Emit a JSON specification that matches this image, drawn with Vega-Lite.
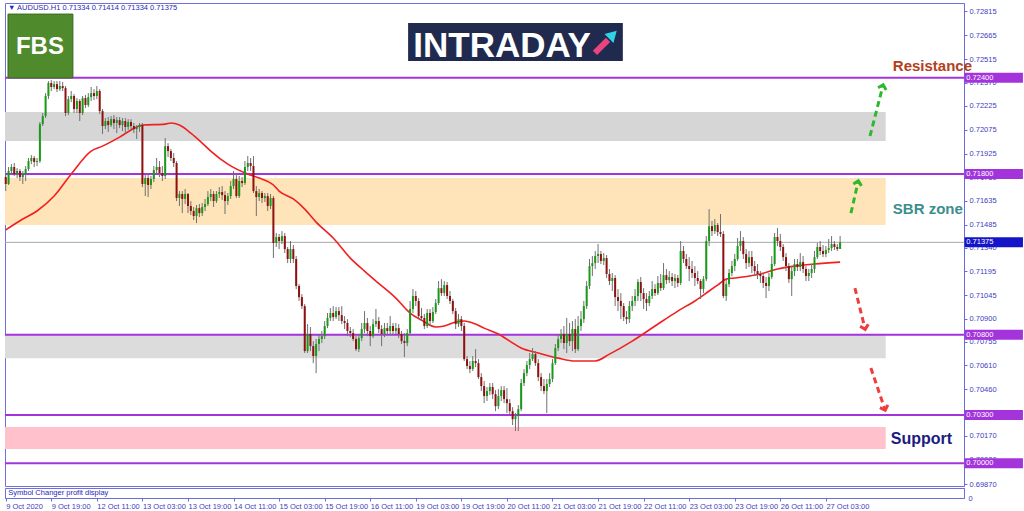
{
  "$schema": "https://vega.github.io/schema/vega-lite/v6.json",
  "padding": {"left": 2, "top": 2, "right": 0, "bottom": 0},
  "background": "white",
  "spacing": 2,
  "bounds": "flush",
  "config": {"view": {"stroke": "#7070dc", "strokeWidth": 1}, "font": "Liberation Sans", "axis": {"labelOverlap": false}},
  "datasets": {
    "candles": [
{"i":0,"o":0.71781,"h":0.71806,"l":0.71694,"c":0.71738},
{"i":1,"o":0.71738,"h":0.71844,"l":0.71732,"c":0.71819},
{"i":2,"o":0.71819,"h":0.71862,"l":0.71806,"c":0.71844},
{"i":3,"o":0.71844,"h":0.71869,"l":0.71788,"c":0.71800},
{"i":4,"o":0.71800,"h":0.71837,"l":0.71775,"c":0.71819},
{"i":5,"o":0.71819,"h":0.71831,"l":0.71757,"c":0.71781},
{"i":6,"o":0.71781,"h":0.71819,"l":0.71738,"c":0.71800},
{"i":7,"o":0.71800,"h":0.71850,"l":0.71757,"c":0.71831},
{"i":8,"o":0.71831,"h":0.71900,"l":0.71819,"c":0.71881},
{"i":9,"o":0.71881,"h":0.71918,"l":0.71862,"c":0.71900},
{"i":10,"o":0.71900,"h":0.71912,"l":0.71844,"c":0.71875},
{"i":11,"o":0.71875,"h":0.71900,"l":0.71850,"c":0.71881},
{"i":12,"o":0.71881,"h":0.72124,"l":0.71869,"c":0.72111},
{"i":13,"o":0.72111,"h":0.72180,"l":0.72099,"c":0.72161},
{"i":14,"o":0.72161,"h":0.72304,"l":0.72149,"c":0.72286},
{"i":15,"o":0.72286,"h":0.72379,"l":0.72267,"c":0.72367},
{"i":16,"o":0.72367,"h":0.72385,"l":0.72317,"c":0.72342},
{"i":17,"o":0.72342,"h":0.72379,"l":0.72329,"c":0.72360},
{"i":18,"o":0.72360,"h":0.72379,"l":0.72311,"c":0.72329},
{"i":19,"o":0.72329,"h":0.72379,"l":0.72317,"c":0.72348},
{"i":20,"o":0.72348,"h":0.72373,"l":0.72317,"c":0.72335},
{"i":21,"o":0.72335,"h":0.72348,"l":0.72161,"c":0.72180},
{"i":22,"o":0.72180,"h":0.72286,"l":0.72167,"c":0.72267},
{"i":23,"o":0.72267,"h":0.72317,"l":0.72248,"c":0.72286},
{"i":24,"o":0.72286,"h":0.72298,"l":0.72180,"c":0.72205},
{"i":25,"o":0.72205,"h":0.72273,"l":0.72180,"c":0.72255},
{"i":26,"o":0.72255,"h":0.72267,"l":0.72130,"c":0.72180},
{"i":27,"o":0.72180,"h":0.72286,"l":0.72167,"c":0.72273},
{"i":28,"o":0.72273,"h":0.72292,"l":0.72211,"c":0.72230},
{"i":29,"o":0.72230,"h":0.72304,"l":0.72217,"c":0.72279},
{"i":30,"o":0.72279,"h":0.72342,"l":0.72255,"c":0.72304},
{"i":31,"o":0.72304,"h":0.72329,"l":0.72261,"c":0.72286},
{"i":32,"o":0.72286,"h":0.72348,"l":0.72267,"c":0.72317},
{"i":33,"o":0.72317,"h":0.72329,"l":0.72174,"c":0.72192},
{"i":34,"o":0.72192,"h":0.72205,"l":0.72049,"c":0.72099},
{"i":35,"o":0.72099,"h":0.72149,"l":0.72080,"c":0.72130},
{"i":36,"o":0.72130,"h":0.72155,"l":0.72062,"c":0.72105},
{"i":37,"o":0.72105,"h":0.72161,"l":0.72093,"c":0.72142},
{"i":38,"o":0.72142,"h":0.72167,"l":0.72080,"c":0.72118},
{"i":39,"o":0.72118,"h":0.72155,"l":0.72055,"c":0.72136},
{"i":40,"o":0.72136,"h":0.72155,"l":0.72086,"c":0.72105},
{"i":41,"o":0.72105,"h":0.72149,"l":0.72068,"c":0.72130},
{"i":42,"o":0.72130,"h":0.72149,"l":0.72049,"c":0.72093},
{"i":43,"o":0.72093,"h":0.72142,"l":0.72074,"c":0.72124},
{"i":44,"o":0.72124,"h":0.72142,"l":0.72080,"c":0.72099},
{"i":45,"o":0.72099,"h":0.72118,"l":0.72055,"c":0.72080},
{"i":46,"o":0.72080,"h":0.72105,"l":0.72018,"c":0.72093},
{"i":47,"o":0.72093,"h":0.72118,"l":0.72062,"c":0.72105},
{"i":48,"o":0.72105,"h":0.72118,"l":0.71719,"c":0.71738},
{"i":49,"o":0.71738,"h":0.71794,"l":0.71663,"c":0.71775},
{"i":50,"o":0.71775,"h":0.71806,"l":0.71657,"c":0.71732},
{"i":51,"o":0.71732,"h":0.71788,"l":0.71707,"c":0.71769},
{"i":52,"o":0.71769,"h":0.71850,"l":0.71750,"c":0.71825},
{"i":53,"o":0.71825,"h":0.71900,"l":0.71800,"c":0.71844},
{"i":54,"o":0.71844,"h":0.71881,"l":0.71781,"c":0.71806},
{"i":55,"o":0.71806,"h":0.71850,"l":0.71757,"c":0.71788},
{"i":56,"o":0.71788,"h":0.72024,"l":0.71769,"c":0.71974},
{"i":57,"o":0.71974,"h":0.71993,"l":0.71906,"c":0.71943},
{"i":58,"o":0.71943,"h":0.71956,"l":0.71881,"c":0.71900},
{"i":59,"o":0.71900,"h":0.71931,"l":0.71844,"c":0.71869},
{"i":60,"o":0.71869,"h":0.71881,"l":0.71632,"c":0.71651},
{"i":61,"o":0.71651,"h":0.71694,"l":0.71601,"c":0.71676},
{"i":62,"o":0.71676,"h":0.71694,"l":0.71557,"c":0.71645},
{"i":63,"o":0.71645,"h":0.71707,"l":0.71613,"c":0.71676},
{"i":64,"o":0.71676,"h":0.71682,"l":0.71557,"c":0.71601},
{"i":65,"o":0.71601,"h":0.71632,"l":0.71545,"c":0.71570},
{"i":66,"o":0.71570,"h":0.71595,"l":0.71514,"c":0.71539},
{"i":67,"o":0.71539,"h":0.71607,"l":0.71495,"c":0.71588},
{"i":68,"o":0.71588,"h":0.71613,"l":0.71532,"c":0.71557},
{"i":69,"o":0.71557,"h":0.71620,"l":0.71539,"c":0.71595},
{"i":70,"o":0.71595,"h":0.71645,"l":0.71570,"c":0.71613},
{"i":71,"o":0.71613,"h":0.71694,"l":0.71601,"c":0.71657},
{"i":72,"o":0.71657,"h":0.71707,"l":0.71632,"c":0.71676},
{"i":73,"o":0.71676,"h":0.71694,"l":0.71595,"c":0.71632},
{"i":74,"o":0.71632,"h":0.71694,"l":0.71620,"c":0.71676},
{"i":75,"o":0.71676,"h":0.71719,"l":0.71651,"c":0.71688},
{"i":76,"o":0.71688,"h":0.71725,"l":0.71638,"c":0.71669},
{"i":77,"o":0.71669,"h":0.71694,"l":0.71551,"c":0.71632},
{"i":78,"o":0.71632,"h":0.71682,"l":0.71607,"c":0.71663},
{"i":79,"o":0.71663,"h":0.71757,"l":0.71645,"c":0.71725},
{"i":80,"o":0.71725,"h":0.71819,"l":0.71707,"c":0.71769},
{"i":81,"o":0.71769,"h":0.71806,"l":0.71651,"c":0.71663},
{"i":82,"o":0.71663,"h":0.71788,"l":0.71651,"c":0.71757},
{"i":83,"o":0.71757,"h":0.71781,"l":0.71719,"c":0.71744},
{"i":84,"o":0.71744,"h":0.71881,"l":0.71732,"c":0.71844},
{"i":85,"o":0.71844,"h":0.71912,"l":0.71819,"c":0.71869},
{"i":86,"o":0.71869,"h":0.71900,"l":0.71819,"c":0.71850},
{"i":87,"o":0.71850,"h":0.71912,"l":0.71682,"c":0.71694},
{"i":88,"o":0.71694,"h":0.71725,"l":0.71539,"c":0.71657},
{"i":89,"o":0.71657,"h":0.71707,"l":0.71632,"c":0.71682},
{"i":90,"o":0.71682,"h":0.71694,"l":0.71620,"c":0.71651},
{"i":91,"o":0.71651,"h":0.71682,"l":0.71626,"c":0.71663},
{"i":92,"o":0.71663,"h":0.71682,"l":0.71570,"c":0.71601},
{"i":93,"o":0.71601,"h":0.71676,"l":0.71582,"c":0.71651},
{"i":94,"o":0.71651,"h":0.71663,"l":0.71277,"c":0.71371},
{"i":95,"o":0.71371,"h":0.71433,"l":0.71346,"c":0.71408},
{"i":96,"o":0.71408,"h":0.71427,"l":0.71333,"c":0.71383},
{"i":97,"o":0.71383,"h":0.71445,"l":0.71364,"c":0.71414},
{"i":98,"o":0.71414,"h":0.71433,"l":0.71308,"c":0.71333},
{"i":99,"o":0.71333,"h":0.71346,"l":0.71246,"c":0.71271},
{"i":100,"o":0.71271,"h":0.71383,"l":0.71246,"c":0.71333},
{"i":101,"o":0.71333,"h":0.71358,"l":0.71246,"c":0.71271},
{"i":102,"o":0.71271,"h":0.71290,"l":0.71084,"c":0.71103},
{"i":103,"o":0.71103,"h":0.71115,"l":0.71010,"c":0.71034},
{"i":104,"o":0.71034,"h":0.71053,"l":0.70960,"c":0.70978},
{"i":105,"o":0.70978,"h":0.70991,"l":0.70686,"c":0.70698},
{"i":106,"o":0.70698,"h":0.70866,"l":0.70686,"c":0.70804},
{"i":107,"o":0.70804,"h":0.70848,"l":0.70698,"c":0.70729},
{"i":108,"o":0.70729,"h":0.70760,"l":0.70623,"c":0.70667},
{"i":109,"o":0.70667,"h":0.70773,"l":0.70561,"c":0.70742},
{"i":110,"o":0.70742,"h":0.70804,"l":0.70698,"c":0.70773},
{"i":111,"o":0.70773,"h":0.70823,"l":0.70748,"c":0.70791},
{"i":112,"o":0.70791,"h":0.70885,"l":0.70773,"c":0.70854},
{"i":113,"o":0.70854,"h":0.70935,"l":0.70841,"c":0.70904},
{"i":114,"o":0.70904,"h":0.70966,"l":0.70885,"c":0.70935},
{"i":115,"o":0.70935,"h":0.70978,"l":0.70885,"c":0.70910},
{"i":116,"o":0.70910,"h":0.70972,"l":0.70897,"c":0.70947},
{"i":117,"o":0.70947,"h":0.70972,"l":0.70885,"c":0.70922},
{"i":118,"o":0.70922,"h":0.70978,"l":0.70866,"c":0.70885},
{"i":119,"o":0.70885,"h":0.70916,"l":0.70835,"c":0.70873},
{"i":120,"o":0.70873,"h":0.70897,"l":0.70791,"c":0.70823},
{"i":121,"o":0.70823,"h":0.70848,"l":0.70785,"c":0.70810},
{"i":122,"o":0.70810,"h":0.70835,"l":0.70760,"c":0.70773},
{"i":123,"o":0.70773,"h":0.70791,"l":0.70698,"c":0.70710},
{"i":124,"o":0.70710,"h":0.70804,"l":0.70692,"c":0.70779},
{"i":125,"o":0.70779,"h":0.70873,"l":0.70760,"c":0.70835},
{"i":126,"o":0.70835,"h":0.70947,"l":0.70810,"c":0.70873},
{"i":127,"o":0.70873,"h":0.70904,"l":0.70791,"c":0.70823},
{"i":128,"o":0.70823,"h":0.70854,"l":0.70729,"c":0.70791},
{"i":129,"o":0.70791,"h":0.70897,"l":0.70779,"c":0.70866},
{"i":130,"o":0.70866,"h":0.70960,"l":0.70848,"c":0.70885},
{"i":131,"o":0.70885,"h":0.70910,"l":0.70810,"c":0.70835},
{"i":132,"o":0.70835,"h":0.70860,"l":0.70729,"c":0.70804},
{"i":133,"o":0.70804,"h":0.70873,"l":0.70785,"c":0.70841},
{"i":134,"o":0.70841,"h":0.70873,"l":0.70804,"c":0.70823},
{"i":135,"o":0.70823,"h":0.70916,"l":0.70798,"c":0.70854},
{"i":136,"o":0.70854,"h":0.70873,"l":0.70798,"c":0.70823},
{"i":137,"o":0.70823,"h":0.70873,"l":0.70804,"c":0.70841},
{"i":138,"o":0.70841,"h":0.70866,"l":0.70779,"c":0.70804},
{"i":139,"o":0.70804,"h":0.70823,"l":0.70742,"c":0.70760},
{"i":140,"o":0.70760,"h":0.70810,"l":0.70661,"c":0.70748},
{"i":141,"o":0.70748,"h":0.70835,"l":0.70729,"c":0.70810},
{"i":142,"o":0.70810,"h":0.71010,"l":0.70798,"c":0.70960},
{"i":143,"o":0.70960,"h":0.71084,"l":0.70935,"c":0.71041},
{"i":144,"o":0.71041,"h":0.71072,"l":0.70978,"c":0.71010},
{"i":145,"o":0.71010,"h":0.71028,"l":0.70897,"c":0.70916},
{"i":146,"o":0.70916,"h":0.70966,"l":0.70885,"c":0.70904},
{"i":147,"o":0.70904,"h":0.70929,"l":0.70835,"c":0.70854},
{"i":148,"o":0.70854,"h":0.70960,"l":0.70841,"c":0.70935},
{"i":149,"o":0.70935,"h":0.70960,"l":0.70854,"c":0.70885},
{"i":150,"o":0.70885,"h":0.70972,"l":0.70873,"c":0.70941},
{"i":151,"o":0.70941,"h":0.71022,"l":0.70929,"c":0.70997},
{"i":152,"o":0.70997,"h":0.71134,"l":0.70985,"c":0.71090},
{"i":153,"o":0.71090,"h":0.71146,"l":0.71041,"c":0.71059},
{"i":154,"o":0.71059,"h":0.71134,"l":0.71041,"c":0.71109},
{"i":155,"o":0.71109,"h":0.71128,"l":0.71022,"c":0.71041},
{"i":156,"o":0.71041,"h":0.71072,"l":0.70991,"c":0.71010},
{"i":157,"o":0.71010,"h":0.71022,"l":0.70929,"c":0.70947},
{"i":158,"o":0.70947,"h":0.70966,"l":0.70835,"c":0.70866},
{"i":159,"o":0.70866,"h":0.70929,"l":0.70848,"c":0.70897},
{"i":160,"o":0.70897,"h":0.70916,"l":0.70823,"c":0.70854},
{"i":161,"o":0.70854,"h":0.70873,"l":0.70636,"c":0.70648},
{"i":162,"o":0.70648,"h":0.70667,"l":0.70586,"c":0.70605},
{"i":163,"o":0.70605,"h":0.70636,"l":0.70561,"c":0.70586},
{"i":164,"o":0.70586,"h":0.70667,"l":0.70574,"c":0.70636},
{"i":165,"o":0.70636,"h":0.70710,"l":0.70598,"c":0.70623},
{"i":166,"o":0.70623,"h":0.70648,"l":0.70524,"c":0.70536},
{"i":167,"o":0.70536,"h":0.70561,"l":0.70449,"c":0.70480},
{"i":168,"o":0.70480,"h":0.70511,"l":0.70374,"c":0.70418},
{"i":169,"o":0.70418,"h":0.70474,"l":0.70387,"c":0.70449},
{"i":170,"o":0.70449,"h":0.70499,"l":0.70424,"c":0.70474},
{"i":171,"o":0.70474,"h":0.70499,"l":0.70399,"c":0.70430},
{"i":172,"o":0.70430,"h":0.70455,"l":0.70324,"c":0.70355},
{"i":173,"o":0.70355,"h":0.70461,"l":0.70337,"c":0.70418},
{"i":174,"o":0.70418,"h":0.70480,"l":0.70387,"c":0.70455},
{"i":175,"o":0.70455,"h":0.70480,"l":0.70374,"c":0.70399},
{"i":176,"o":0.70399,"h":0.70468,"l":0.70312,"c":0.70374},
{"i":177,"o":0.70374,"h":0.70399,"l":0.70306,"c":0.70324},
{"i":178,"o":0.70324,"h":0.70349,"l":0.70237,"c":0.70274},
{"i":179,"o":0.70274,"h":0.70312,"l":0.70200,"c":0.70293},
{"i":180,"o":0.70293,"h":0.70362,"l":0.70200,"c":0.70337},
{"i":181,"o":0.70337,"h":0.70524,"l":0.70324,"c":0.70499},
{"i":182,"o":0.70499,"h":0.70586,"l":0.70480,"c":0.70561},
{"i":183,"o":0.70561,"h":0.70636,"l":0.70542,"c":0.70611},
{"i":184,"o":0.70611,"h":0.70686,"l":0.70586,"c":0.70648},
{"i":185,"o":0.70648,"h":0.70717,"l":0.70636,"c":0.70679},
{"i":186,"o":0.70679,"h":0.70698,"l":0.70605,"c":0.70623},
{"i":187,"o":0.70623,"h":0.70648,"l":0.70511,"c":0.70536},
{"i":188,"o":0.70536,"h":0.70561,"l":0.70449,"c":0.70480},
{"i":189,"o":0.70480,"h":0.70524,"l":0.70430,"c":0.70449},
{"i":190,"o":0.70449,"h":0.70524,"l":0.70312,"c":0.70493},
{"i":191,"o":0.70493,"h":0.70561,"l":0.70474,"c":0.70524},
{"i":192,"o":0.70524,"h":0.70648,"l":0.70505,"c":0.70623},
{"i":193,"o":0.70623,"h":0.70742,"l":0.70611,"c":0.70717},
{"i":194,"o":0.70717,"h":0.70804,"l":0.70698,"c":0.70773},
{"i":195,"o":0.70773,"h":0.70835,"l":0.70748,"c":0.70804},
{"i":196,"o":0.70804,"h":0.70854,"l":0.70710,"c":0.70748},
{"i":197,"o":0.70748,"h":0.70904,"l":0.70686,"c":0.70804},
{"i":198,"o":0.70804,"h":0.70873,"l":0.70729,"c":0.70760},
{"i":199,"o":0.70760,"h":0.70885,"l":0.70698,"c":0.70835},
{"i":200,"o":0.70835,"h":0.70897,"l":0.70686,"c":0.70710},
{"i":201,"o":0.70710,"h":0.70916,"l":0.70698,"c":0.70854},
{"i":202,"o":0.70854,"h":0.70947,"l":0.70823,"c":0.70897},
{"i":203,"o":0.70897,"h":0.71010,"l":0.70873,"c":0.70978},
{"i":204,"o":0.70978,"h":0.71134,"l":0.70960,"c":0.71103},
{"i":205,"o":0.71103,"h":0.71271,"l":0.71084,"c":0.71227},
{"i":206,"o":0.71227,"h":0.71290,"l":0.71165,"c":0.71246},
{"i":207,"o":0.71246,"h":0.71321,"l":0.71209,"c":0.71290},
{"i":208,"o":0.71290,"h":0.71364,"l":0.71246,"c":0.71302},
{"i":209,"o":0.71302,"h":0.71321,"l":0.71240,"c":0.71259},
{"i":210,"o":0.71259,"h":0.71308,"l":0.71234,"c":0.71277},
{"i":211,"o":0.71277,"h":0.71296,"l":0.71153,"c":0.71178},
{"i":212,"o":0.71178,"h":0.71209,"l":0.71109,"c":0.71134},
{"i":213,"o":0.71134,"h":0.71184,"l":0.71072,"c":0.71153},
{"i":214,"o":0.71153,"h":0.71171,"l":0.70978,"c":0.71034},
{"i":215,"o":0.71034,"h":0.71084,"l":0.70947,"c":0.71010},
{"i":216,"o":0.71010,"h":0.71059,"l":0.70897,"c":0.70978},
{"i":217,"o":0.70978,"h":0.70997,"l":0.70885,"c":0.70910},
{"i":218,"o":0.70910,"h":0.70947,"l":0.70866,"c":0.70897},
{"i":219,"o":0.70897,"h":0.71010,"l":0.70873,"c":0.70978},
{"i":220,"o":0.70978,"h":0.71041,"l":0.70947,"c":0.71010},
{"i":221,"o":0.71010,"h":0.71084,"l":0.70978,"c":0.71041},
{"i":222,"o":0.71041,"h":0.71146,"l":0.71010,"c":0.71128},
{"i":223,"o":0.71128,"h":0.71159,"l":0.71010,"c":0.71059},
{"i":224,"o":0.71059,"h":0.71090,"l":0.70960,"c":0.71022},
{"i":225,"o":0.71022,"h":0.71059,"l":0.70947,"c":0.70997},
{"i":226,"o":0.70997,"h":0.71072,"l":0.70978,"c":0.71041},
{"i":227,"o":0.71041,"h":0.71134,"l":0.71022,"c":0.71084},
{"i":228,"o":0.71084,"h":0.71115,"l":0.71041,"c":0.71059},
{"i":229,"o":0.71059,"h":0.71165,"l":0.71047,"c":0.71122},
{"i":230,"o":0.71122,"h":0.71178,"l":0.71072,"c":0.71090},
{"i":231,"o":0.71090,"h":0.71246,"l":0.71078,"c":0.71171},
{"i":232,"o":0.71171,"h":0.71209,"l":0.71115,"c":0.71140},
{"i":233,"o":0.71140,"h":0.71196,"l":0.71122,"c":0.71159},
{"i":234,"o":0.71159,"h":0.71184,"l":0.71103,"c":0.71134},
{"i":235,"o":0.71134,"h":0.71178,"l":0.71090,"c":0.71153},
{"i":236,"o":0.71153,"h":0.71171,"l":0.71097,"c":0.71122},
{"i":237,"o":0.71122,"h":0.71383,"l":0.71109,"c":0.71321},
{"i":238,"o":0.71321,"h":0.71352,"l":0.71246,"c":0.71271},
{"i":239,"o":0.71271,"h":0.71302,"l":0.71209,"c":0.71227},
{"i":240,"o":0.71227,"h":0.71283,"l":0.71134,"c":0.71209},
{"i":241,"o":0.71209,"h":0.71259,"l":0.71153,"c":0.71184},
{"i":242,"o":0.71184,"h":0.71227,"l":0.71103,"c":0.71153},
{"i":243,"o":0.71153,"h":0.71196,"l":0.71115,"c":0.71134},
{"i":244,"o":0.71134,"h":0.71146,"l":0.71022,"c":0.71084},
{"i":245,"o":0.71084,"h":0.71165,"l":0.71059,"c":0.71146},
{"i":246,"o":0.71146,"h":0.71414,"l":0.71134,"c":0.71383},
{"i":247,"o":0.71383,"h":0.71582,"l":0.71352,"c":0.71476},
{"i":248,"o":0.71476,"h":0.71508,"l":0.71414,"c":0.71445},
{"i":249,"o":0.71445,"h":0.71520,"l":0.71427,"c":0.71483},
{"i":250,"o":0.71483,"h":0.71495,"l":0.71414,"c":0.71439},
{"i":251,"o":0.71439,"h":0.71551,"l":0.71408,"c":0.71427},
{"i":252,"o":0.71427,"h":0.71445,"l":0.71028,"c":0.71041},
{"i":253,"o":0.71041,"h":0.71146,"l":0.71010,"c":0.71115},
{"i":254,"o":0.71115,"h":0.71209,"l":0.71097,"c":0.71184},
{"i":255,"o":0.71184,"h":0.71259,"l":0.71165,"c":0.71227},
{"i":256,"o":0.71227,"h":0.71302,"l":0.71196,"c":0.71271},
{"i":257,"o":0.71271,"h":0.71402,"l":0.71259,"c":0.71352},
{"i":258,"o":0.71352,"h":0.71445,"l":0.71321,"c":0.71383},
{"i":259,"o":0.71383,"h":0.71408,"l":0.71271,"c":0.71302},
{"i":260,"o":0.71302,"h":0.71333,"l":0.71209,"c":0.71246},
{"i":261,"o":0.71246,"h":0.71321,"l":0.71221,"c":0.71283},
{"i":262,"o":0.71283,"h":0.71321,"l":0.71184,"c":0.71227},
{"i":263,"o":0.71227,"h":0.71259,"l":0.71165,"c":0.71196},
{"i":264,"o":0.71196,"h":0.71240,"l":0.71146,"c":0.71178},
{"i":265,"o":0.71178,"h":0.71196,"l":0.71122,"c":0.71165},
{"i":266,"o":0.71165,"h":0.71184,"l":0.71090,"c":0.71122},
{"i":267,"o":0.71122,"h":0.71159,"l":0.71028,"c":0.71103},
{"i":268,"o":0.71103,"h":0.71184,"l":0.71072,"c":0.71159},
{"i":269,"o":0.71159,"h":0.71290,"l":0.71146,"c":0.71240},
{"i":270,"o":0.71240,"h":0.71433,"l":0.71227,"c":0.71408},
{"i":271,"o":0.71408,"h":0.71464,"l":0.71352,"c":0.71383},
{"i":272,"o":0.71383,"h":0.71427,"l":0.71321,"c":0.71346},
{"i":273,"o":0.71346,"h":0.71364,"l":0.71259,"c":0.71283},
{"i":274,"o":0.71283,"h":0.71308,"l":0.71196,"c":0.71227},
{"i":275,"o":0.71227,"h":0.71246,"l":0.71122,"c":0.71146},
{"i":276,"o":0.71146,"h":0.71227,"l":0.71041,"c":0.71196},
{"i":277,"o":0.71196,"h":0.71271,"l":0.71165,"c":0.71240},
{"i":278,"o":0.71240,"h":0.71271,"l":0.71196,"c":0.71221},
{"i":279,"o":0.71221,"h":0.71308,"l":0.71196,"c":0.71252},
{"i":280,"o":0.71252,"h":0.71290,"l":0.71184,"c":0.71209},
{"i":281,"o":0.71209,"h":0.71227,"l":0.71134,"c":0.71165},
{"i":282,"o":0.71165,"h":0.71209,"l":0.71134,"c":0.71184},
{"i":283,"o":0.71184,"h":0.71240,"l":0.71153,"c":0.71209},
{"i":284,"o":0.71209,"h":0.71321,"l":0.71184,"c":0.71283},
{"i":285,"o":0.71283,"h":0.71371,"l":0.71271,"c":0.71346},
{"i":286,"o":0.71346,"h":0.71383,"l":0.71296,"c":0.71321},
{"i":287,"o":0.71321,"h":0.71358,"l":0.71283,"c":0.71302},
{"i":288,"o":0.71302,"h":0.71352,"l":0.71283,"c":0.71327},
{"i":289,"o":0.71327,"h":0.71396,"l":0.71308,"c":0.71339},
{"i":290,"o":0.71339,"h":0.71414,"l":0.71321,"c":0.71364},
{"i":291,"o":0.71364,"h":0.71383,"l":0.71327,"c":0.71346},
{"i":292,"o":0.71346,"h":0.71364,"l":0.71321,"c":0.71334},
{"i":293,"o":0.71334,"h":0.71414,"l":0.71334,"c":0.71375}
    ],
    "ma": [
{"i":0,"ma":0.71452},{"i":6,"ma":0.71520},{"i":11,"ma":0.71570},{"i":17,"ma":0.71663},{"i":23,"ma":0.71800},
{"i":30,"ma":0.71943},{"i":34,"ma":0.71974},{"i":40,"ma":0.72030},{"i":46,"ma":0.72093},{"i":48,"ma":0.72105},
{"i":56,"ma":0.72111},{"i":58,"ma":0.72118},{"i":61,"ma":0.72105},{"i":65,"ma":0.72055},{"i":69,"ma":0.71993},
{"i":72,"ma":0.71943},{"i":78,"ma":0.71862},{"i":85,"ma":0.71800},{"i":89,"ma":0.71775},{"i":94,"ma":0.71732},
{"i":96,"ma":0.71694},{"i":101,"ma":0.71645},{"i":105,"ma":0.71582},{"i":109,"ma":0.71501},{"i":115,"ma":0.71402},
{"i":121,"ma":0.71277},{"i":126,"ma":0.71196},{"i":130,"ma":0.71134},{"i":137,"ma":0.71028},{"i":142,"ma":0.70935},
{"i":146,"ma":0.70891},{"i":151,"ma":0.70848},{"i":154,"ma":0.70854},{"i":158,"ma":0.70879},{"i":161,"ma":0.70885},
{"i":165,"ma":0.70866},{"i":168,"ma":0.70841},{"i":173,"ma":0.70804},{"i":177,"ma":0.70760},{"i":181,"ma":0.70717},
{"i":187,"ma":0.70686},{"i":194,"ma":0.70654},{"i":200,"ma":0.70636},{"i":207,"ma":0.70636},{"i":212,"ma":0.70679},
{"i":220,"ma":0.70760},{"i":228,"ma":0.70854},{"i":236,"ma":0.70947},{"i":242,"ma":0.71010},{"i":247,"ma":0.71072},
{"i":250,"ma":0.71109},{"i":253,"ma":0.71146},{"i":256,"ma":0.71153},{"i":265,"ma":0.71178},{"i":271,"ma":0.71209},
{"i":277,"ma":0.71227},{"i":284,"ma":0.71240},{"i":293,"ma":0.71252}
    ],
    "levels": [{"p":0.724},{"p":0.718},{"p":0.708},{"p":0.703},{"p":0.700}],
    "zones": [
      {"z":"upper","top":0.72186,"bot":0.72006},
      {"z":"sbr","top":0.71775,"bot":0.71483},
      {"z":"lower","top":0.70798,"bot":0.70654},
      {"z":"support","top":0.70225,"bot":0.70088}
    ],
    "tags": [
      {"p":0.724,"t":"0.72400","k":"level"},
      {"p":0.718,"t":"0.71800","k":"level"},
      {"p":0.71375,"t":"0.71375","k":"price"},
      {"p":0.708,"t":"0.70800","k":"level"},
      {"p":0.703,"t":"0.70300","k":"level"},
      {"p":0.700,"t":"0.70000","k":"level"}
    ],
    "arrows": [
      {"a":"g1","k":"up","s":0,"i":296.8,"p":0.71557},{"a":"g1","k":"up","s":1,"i":299.3,"p":0.71750},
      {"a":"g2","k":"up","s":0,"i":303.5,"p":0.72037},{"a":"g2","k":"up","s":1,"i":308.0,"p":0.72348},
      {"a":"r1","k":"down","s":0,"i":298.2,"p":0.71090},{"a":"r1","k":"down","s":1,"i":301.7,"p":0.70841},
      {"a":"r2","k":"down","s":0,"i":303.8,"p":0.70592},{"a":"r2","k":"down","s":1,"i":308.7,"p":0.70337}
    ],
    "heads": [
      {"k":"up","i":299.3,"p":0.71750,"ang":13},
      {"k":"up","i":308.0,"p":0.72348,"ang":15},
      {"k":"down","i":301.7,"p":0.70841,"ang":166},
      {"k":"down","i":308.7,"p":0.70337,"ang":161}
    ]
  },
  "vconcat": [
    {
      "width": 959,
      "height": 483,
      "resolve": {"scale": {"color": "independent"}, "axis": {"y": "independent"}},
      "layer": [
        {
          "data": {"name": "zones"},
          "mark": {"type": "rect"},
          "encoding": {
            "x": {"datum": -0.25, "type": "quantitative", "scale": {"domain": [-0.25, 336.5], "nice": false, "zero": false, "padding": 0}, "axis": null},
            "x2": {"datum": 309.0},
            "y": {"field": "top", "type": "quantitative", "scale": {"domain": [0.69858, 0.72865], "nice": false, "zero": false, "padding": 0},
              "axis": {"orient": "right", "title": null, "grid": false, "format": ".5f",
                "values": [0.72815,0.72665,0.72515,0.7237,0.72225,0.72075,0.71925,0.7178,0.71635,0.71485,0.7134,0.71195,0.71045,0.709,0.70755,0.7061,0.7046,0.70315,0.7017,0.7002,0.6987],
                "labelFont": "Liberation Sans", "labelFontSize": 7.5, "labelColor": "#4040c0", "tickColor": "#6c6cdc", "domainColor": "#6c6cdc", "tickSize": 3, "labelPadding": 2, "labelOverlap": false, "labelSeparation": 0}},
            "y2": {"field": "bot"},
            "color": {"field": "z", "type": "nominal", "legend": null,
              "scale": {"domain": ["upper","sbr","lower","support"], "range": ["#d6d6d6","#fee4b8","#dcdcdc","#ffc1cb"]}}
          }
        },
        {
          "data": {"name": "levels"},
          "mark": {"type": "rule", "color": "#a334dc", "strokeWidth": 2},
          "encoding": {"y": {"field": "p", "type": "quantitative", "axis": null}}
        },
        {
          "data": {"values": [{"p": 0.71375}]},
          "mark": {"type": "rule", "color": "#a8a8a8", "strokeWidth": 1},
          "encoding": {"y": {"field": "p", "type": "quantitative", "axis": null}}
        },
        {
          "data": {"name": "ma"},
          "mark": {"type": "line", "color": "#f02020", "strokeWidth": 1.6, "interpolate": "monotone"},
          "encoding": {
            "x": {"field": "i", "type": "quantitative", "axis": null},
            "y": {"field": "ma", "type": "quantitative", "axis": null}
          }
        },
        {
          "data": {"name": "candles"},
          "mark": {"type": "rule", "color": "#707070", "strokeWidth": 1},
          "encoding": {
            "x": {"field": "i", "type": "quantitative", "axis": null},
            "y": {"field": "l", "type": "quantitative", "axis": null},
            "y2": {"field": "h"}
          }
        },
        {
          "data": {"name": "candles"},
          "mark": {"type": "bar", "width": 2},
          "encoding": {
            "x": {"field": "i", "type": "quantitative", "axis": null},
            "y": {"field": "o", "type": "quantitative", "axis": null},
            "y2": {"field": "c"},
            "color": {"condition": {"test": "datum.c >= datum.o", "value": "#189a18"}, "value": "#8e1010"}
          }
        },
        {
          "data": {"name": "arrows"},
          "mark": {"type": "line", "strokeWidth": 3, "strokeDash": [6, 4]},
          "encoding": {
            "x": {"field": "i", "type": "quantitative", "axis": null},
            "y": {"field": "p", "type": "quantitative", "axis": null},
            "detail": {"field": "a"},
            "order": {"field": "s"},
            "color": {"field": "k", "type": "nominal", "legend": null, "scale": {"domain": ["up","down"], "range": ["#2eb82e","#f03c3c"]}}
          }
        },
        {
          "data": {"name": "heads"},
          "mark": {"type": "point", "shape": "M-1,0.7L0,-0.3L1,0.7", "filled": false, "strokeWidth": 3, "size": 70, "opacity": 1},
          "encoding": {
            "x": {"field": "i", "type": "quantitative", "axis": null},
            "y": {"field": "p", "type": "quantitative", "axis": null},
            "angle": {"field": "ang", "type": "quantitative", "scale": null},
            "color": {"field": "k", "type": "nominal", "legend": null, "scale": {"domain": ["up","down"], "range": ["#2eb82e","#f03c3c"]}}
          }
        },
        {
          "data": {"values": [{"t": "Resistance"}]},
          "mark": {"type": "text", "align": "left", "baseline": "middle", "font": "Liberation Sans", "fontWeight": "bold", "fontSize": 15, "color": "#b4401c"},
          "encoding": {"x": {"datum": 311.5, "type": "quantitative", "axis": null}, "y": {"datum": 0.72470, "type": "quantitative", "axis": null}, "text": {"field": "t"}}
        },
        {
          "data": {"values": [{"t": "SBR zone"}]},
          "mark": {"type": "text", "align": "left", "baseline": "middle", "font": "Liberation Sans", "fontWeight": "bold", "fontSize": 15, "color": "#3b8e8e"},
          "encoding": {"x": {"datum": 311.5, "type": "quantitative", "axis": null}, "y": {"datum": 0.71582, "type": "quantitative", "axis": null}, "text": {"field": "t"}}
        },
        {
          "data": {"values": [{"t": "Support"}]},
          "mark": {"type": "text", "align": "left", "baseline": "middle", "font": "Liberation Sans", "fontWeight": "bold", "fontSize": 16, "color": "#1c1c80"},
          "encoding": {"x": {"datum": 310.8, "type": "quantitative", "axis": null}, "y": {"datum": 0.70150, "type": "quantitative", "axis": null}, "text": {"field": "t"}}
        },
        {
          "data": {"values": [{"t": "▼  AUDUSD.H1  0.71334 0.71414 0.71334 0.71375"}]},
          "mark": {"type": "text", "align": "left", "baseline": "middle", "font": "Liberation Sans", "fontSize": 7.5, "color": "#2828b8"},
          "encoding": {"x": {"datum": 0.8, "type": "quantitative", "axis": null}, "y": {"datum": 0.72834, "type": "quantitative", "axis": null}, "text": {"field": "t"}}
        },
        {
          "data": {"values": [{"t": "FBS"}]},
          "mark": {"type": "rect", "color": "#4f8a2c", "stroke": "#3b6a20", "strokeWidth": 1},
          "encoding": {"x": {"datum": 0.8, "type": "quantitative", "axis": null}, "x2": {"datum": 23.6}, "y": {"datum": 0.72796, "type": "quantitative", "axis": null}, "y2": {"datum": 0.72398}}
        },
        {
          "data": {"values": [{"t": "FBS"}]},
          "mark": {"type": "text", "align": "center", "baseline": "middle", "font": "Liberation Sans", "fontWeight": "bold", "fontSize": 24, "color": "white"},
          "encoding": {"x": {"datum": 12.0, "type": "quantitative", "axis": null}, "y": {"datum": 0.72591, "type": "quantitative", "axis": null}, "text": {"field": "t"}}
        },
        {
          "data": {"values": [{"t": "INTRADAY"}]},
          "mark": {"type": "rect", "color": "#1f2a4e"},
          "encoding": {"x": {"datum": 141.3, "type": "quantitative", "axis": null}, "x2": {"datum": 216.7}, "y": {"datum": 0.72740, "type": "quantitative", "axis": null}, "y2": {"datum": 0.72504}}
        },
        {
          "data": {"values": [{"t": "INTRADAY"}]},
          "mark": {"type": "text", "align": "center", "baseline": "alphabetic", "font": "Liberation Sans", "fontWeight": "bold", "fontSize": 35, "color": "white"},
          "encoding": {"x": {"datum": 174.3, "type": "quantitative", "axis": null}, "y": {"datum": 0.72529, "type": "quantitative", "axis": null}, "text": {"field": "t"}}
        },
        {
          "data": {"values": [{"s": 0, "i": 206.9, "p": 0.72554}, {"s": 1, "i": 211.5, "p": 0.72635}]},
          "mark": {"type": "line", "color": "#e8457e", "strokeWidth": 6},
          "encoding": {"x": {"field": "i", "type": "quantitative", "axis": null}, "y": {"field": "p", "type": "quantitative", "axis": null}, "order": {"field": "s"}}
        },
        {
          "data": {"values": [{"i": 213.2, "p": 0.72668}]},
          "mark": {"type": "point", "shape": "triangle-up", "filled": true, "size": 160, "color": "#2fd3e6", "opacity": 1, "angle": 45},
          "encoding": {"x": {"field": "i", "type": "quantitative", "axis": null}, "y": {"field": "p", "type": "quantitative", "axis": null}}
        },
        {
          "data": {"name": "tags"},
          "mark": {"type": "rule", "strokeWidth": 10, "strokeCap": "butt"},
          "encoding": {
            "x": {"datum": 336.7, "type": "quantitative", "axis": null},
            "x2": {"datum": 357.2},
            "y": {"field": "p", "type": "quantitative", "axis": null},
            "color": {"field": "k", "type": "nominal", "legend": null, "scale": {"domain": ["level","price"], "range": ["#a334dc","#1414c8"]}}
          }
        },
        {
          "data": {"name": "tags"},
          "mark": {"type": "text", "align": "left", "baseline": "middle", "font": "Liberation Sans", "fontSize": 7.5, "color": "white"},
          "encoding": {
            "x": {"datum": 337.3, "type": "quantitative", "axis": null},
            "y": {"field": "p", "type": "quantitative", "axis": null},
            "text": {"field": "t"}
          }
        }
      ]
    },
    {
      "width": 959,
      "height": 10,
      "data": {"values": [{"t": "Symbol Changer profit display"}]},
      "mark": {"type": "text", "align": "left", "baseline": "middle", "font": "Liberation Sans", "fontSize": 7.5, "color": "#2828c0"},
      "encoding": {
        "x": {"datum": 0.9, "type": "quantitative",
          "scale": {"domain": [-0.25, 336.5], "nice": false, "zero": false, "padding": 0},
          "axis": {"title": null, "grid": false, "values": [0,16,32,48,64,80,96,112,128,144,160,176,192,208,224,240,256,272,288],
            "labelExpr": "['9 Oct 2020','9 Oct 19:00','12 Oct 11:00','13 Oct 03:00','13 Oct 19:00','14 Oct 11:00','15 Oct 03:00','15 Oct 19:00','16 Oct 11:00','19 Oct 03:00','19 Oct 19:00','20 Oct 11:00','21 Oct 03:00','21 Oct 19:00','22 Oct 11:00','23 Oct 03:00','23 Oct 19:00','26 Oct 11:00','27 Oct 03:00'][round(datum.value/16)]",
            "labelAlign": "left", "labelFont": "Liberation Sans", "labelFontSize": 7.5, "labelColor": "#4040c0", "labelOverlap": false, "labelFlush": false,
            "tickColor": "#6c6cdc", "domainColor": "#6c6cdc", "tickSize": 3, "labelPadding": 1}},
        "y": {"datum": 0.5, "type": "quantitative",
          "scale": {"domain": [0, 1], "nice": false, "zero": false},
          "axis": {"orient": "right", "title": null, "grid": false, "values": [0], "labelFont": "Liberation Sans", "labelFontSize": 7.5, "labelColor": "#4040c0", "tickSize": 0, "domainColor": "#6c6cdc", "labelPadding": 4}},
        "text": {"field": "t"}
      }
    }
  ]
}
